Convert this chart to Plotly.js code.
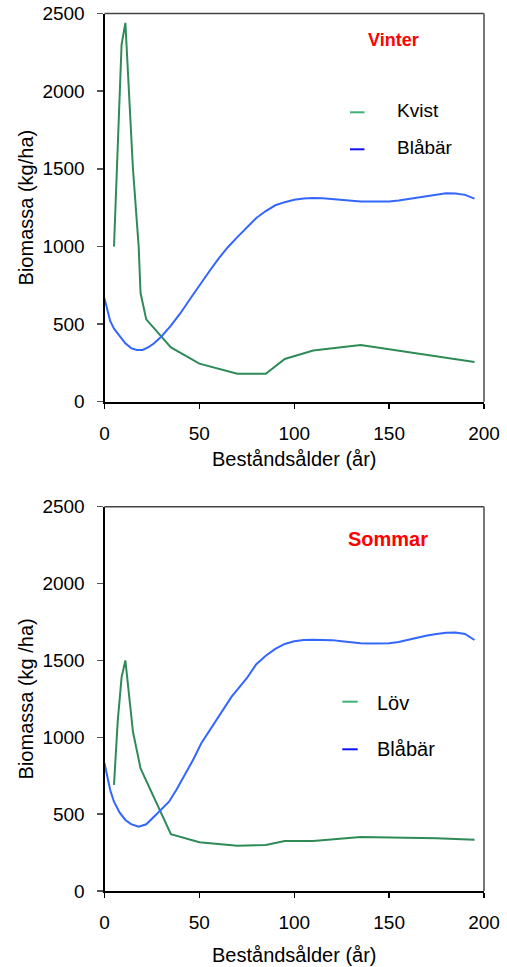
<!DOCTYPE html>
<html>
<head>
<meta charset="utf-8">
<script src="https://cdn.plot.ly/plotly-3.0.1.min.js"></script>
<style>html,body{margin:0;padding:0;background:#fff;}#chart{width:507px;height:967px;}</style>
</head>
<body>
<div id="chart"></div>
<script>
// Vinter (top)
const kvistAge = [5, 9, 11, 15, 18, 19, 22, 35, 50, 70, 85, 95, 110, 135, 195];
const kvistVal = [1000, 2300, 2440, 1500, 1000, 700, 530, 350, 245, 180, 180, 275, 330, 365, 255];
const blaVinterAge = [0, 3, 5, 8, 11, 14, 17, 20, 23, 26, 30, 35, 40, 45, 50, 55, 60, 65, 70, 75, 80, 85, 90, 95, 100, 105, 110, 115, 120, 125, 130, 135, 140, 145, 150, 155, 160, 165, 170, 175, 180, 185, 190, 195];
const blaVinterVal = [665, 520, 470, 420, 376, 345, 333, 333, 350, 375, 420, 490, 570, 660, 750, 835, 920, 995, 1060, 1122, 1183, 1228, 1265, 1285, 1300, 1308, 1312, 1310, 1305, 1300, 1295, 1290, 1290, 1290, 1290, 1295, 1305, 1315, 1325, 1335, 1342, 1340, 1332, 1308];
// Sommar (bottom)
const lovAge = [5, 7, 9, 11, 15, 19, 35, 50, 70, 85, 95, 110, 135, 175, 195];
const lovVal = [690, 1110, 1390, 1500, 1036, 798, 369, 317, 295, 299, 325, 325, 351, 343, 334];
const blaSommarAge = [0, 3, 5, 8, 11, 14, 18, 22, 27, 30, 34, 38, 43, 47, 51, 55, 59, 63, 67, 71, 75, 80, 85, 90, 95, 100, 105, 110, 115, 120, 125, 130, 135, 140, 145, 150, 155, 160, 165, 170, 175, 180, 185, 190, 195];
const blaSommarVal = [831, 657, 581, 510, 462, 435, 418, 434, 494, 530, 581, 660, 766, 860, 961, 1035, 1112, 1190, 1264, 1325, 1384, 1475, 1530, 1575, 1607, 1625, 1633, 1635, 1634, 1632, 1625, 1618, 1611, 1610, 1610, 1611, 1620, 1635, 1650, 1662, 1672, 1680, 1682, 1672, 1633];

const xTicks = [0, 50, 100, 150, 200];
const yTicks = [0, 500, 1000, 1500, 2000, 2500];
const xTitle = 'Beståndsålder (år)';
const yTitleTop = 'Biomassa (kg/ha)';
const yTitleBottom = 'Biomassa (kg /ha)';

const GREEN = '#2e8b57';
const BLUE = '#3366ff';
const FONT = '"Liberation Sans", Arial, sans-serif';

const traces = [
  {x: kvistAge, y: kvistVal, type: 'scatter', mode: 'lines', name: 'Kvist', line: {color: GREEN, width: 2}, xaxis: 'x', yaxis: 'y'},
  {x: blaVinterAge, y: blaVinterVal, type: 'scatter', mode: 'lines', name: 'Blåbär', line: {color: BLUE, width: 2}, xaxis: 'x', yaxis: 'y'},
  {x: lovAge, y: lovVal, type: 'scatter', mode: 'lines', name: 'Löv', line: {color: GREEN, width: 2}, xaxis: 'x2', yaxis: 'y2'},
  {x: blaSommarAge, y: blaSommarVal, type: 'scatter', mode: 'lines', name: 'Blåbär', line: {color: BLUE, width: 2}, xaxis: 'x2', yaxis: 'y2'}
];

function xax(anchor, standoff) {
  return {
    domain: [104.5/507, 484/507], range: [0, 200], anchor: anchor,
    tickmode: 'array', tickvals: xTicks, ticktext: xTicks.map(String),
    ticks: 'outside', ticklen: 5, tickwidth: 1.5, tickcolor: '#000',
    showline: true, linecolor: '#000', linewidth: 2, showgrid: false, zeroline: false,
    tickfont: {family: FONT, size: 19, color: '#000'},
    ticklabelstandoff: 8,
    title: {text: xTitle, font: {family: FONT, size: 20, color: '#000'}, standoff: standoff},
    fixedrange: true
  };
}
function yax(anchor, domain, title) {
  return {
    domain: domain, range: [0, 2500], anchor: anchor,
    tickmode: 'array', tickvals: yTicks, ticktext: yTicks.map(String),
    ticks: 'outside', ticklen: 6, tickwidth: 1.5, tickcolor: '#555',
    showline: true, linecolor: '#000', linewidth: 2, showgrid: false, zeroline: false,
    tickfont: {family: FONT, size: 19, color: '#000'},
    ticklabelstandoff: 8,
    title: {text: title, font: {family: FONT, size: 20, color: '#000'}, standoff: 3},
    fixedrange: true
  };
}

const topDom = [1 - 401.7/967, 1 - 13.5/967];
const botDom = [1 - 891/967, 1 - 506.7/967];

function frame(xr, yr) {
  return [
    {type: 'line', xref: xr + ' domain', yref: yr + ' domain', x0: 0, x1: 1, y0: 1, y1: 1, line: {color: '#444', width: 1.5}},
    {type: 'line', xref: xr + ' domain', yref: yr + ' domain', x0: 1, x1: 1, y0: 0, y1: 1, line: {color: '#777', width: 2}}
  ];
}

function legendSample(x0, x1, y, color) {
  return {type: 'line', xref: 'paper', yref: 'paper', x0: x0/507, x1: x1/507, y0: 1 - y/967, y1: 1 - y/967, line: {color: color, width: 2}};
}
function label(x, y, text, size, opts) {
  return Object.assign({xref: 'paper', yref: 'paper', x: x/507, y: 1 - y/967, text: text, showarrow: false,
    xanchor: 'left', yanchor: 'middle', font: {family: FONT, size: size, color: '#000'}}, opts || {});
}

const layout = {
  width: 507, height: 967,
  margin: {l: 0, r: 0, t: 0, b: 0},
  paper_bgcolor: '#fff', plot_bgcolor: '#fff',
  showlegend: false,
  xaxis: xax('y', 9),
  yaxis: yax('x', topDom, yTitleTop),
  xaxis2: xax('y2', 16),
  yaxis2: yax('x2', botDom, yTitleBottom),
  shapes: [].concat(frame('x', 'y'), frame('x2', 'y2'), [
    legendSample(350, 364.5, 112.3, '#3cb371'),
    legendSample(350, 364.5, 149.3, '#1010ff'),
    legendSample(342.3, 357.7, 701.7, '#3cb371'),
    legendSample(342.3, 357.7, 749.3, '#1010ff')
  ]),
  annotations: [
    label(393.7, 40.3, '<b>Vinter</b>', 18, {xanchor: 'center', font: {family: FONT, size: 18, color: '#ff0000'}}),
    label(395, 110.8, 'Kvist', 19),
    label(395, 147.5, 'Blåbär', 19),
    label(388.3, 539, '<b>Sommar</b>', 20, {xanchor: 'center', font: {family: FONT, size: 20, color: '#ff0000'}}),
    label(375, 703, 'Löv', 20),
    label(375, 749, 'Blåbär', 20)
  ]
};

Plotly.newPlot('chart', traces, layout, {staticPlot: true, displayModeBar: false});
</script>
</body>
</html>
